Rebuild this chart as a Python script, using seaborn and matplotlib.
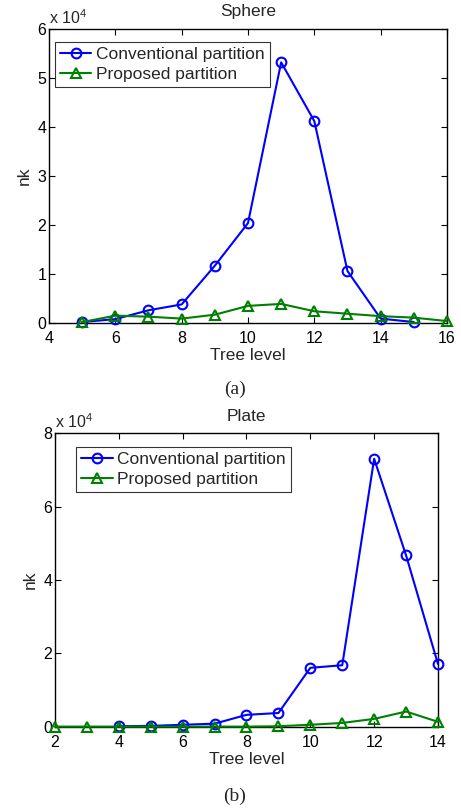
import numpy as np
import pandas as pd
import matplotlib
matplotlib.use("Agg")
import matplotlib.pyplot as plt
import seaborn as sns
from matplotlib.ticker import FuncFormatter

# ---- data ----
sphere_levels_conv = [5, 6, 7, 8, 9, 10, 11, 12, 13, 14, 15]
sphere_conv = [200, 800, 2600, 3800, 11700, 20400, 53200, 41200, 10600, 900, 200]
sphere_levels_prop = [5, 6, 7, 8, 9, 10, 11, 12, 13, 14, 15, 16]
sphere_prop = [200, 1500, 1300, 900, 1700, 3500, 3900, 2400, 1900, 1400, 1100, 400]

plate_levels_conv = [4, 5, 6, 7, 8, 9, 10, 11, 12, 13, 14]
plate_conv = [200, 300, 600, 900, 3300, 3800, 16100, 16800, 73000, 46700, 17100]
plate_levels_prop = [2, 3, 4, 5, 6, 7, 8, 9, 10, 11, 12, 13, 14]
plate_prop = [100, 100, 100, 100, 100, 100, 100, 200, 600, 1100, 2200, 4200, 1400]

labels = ["Conventional partition", "Proposed partition"]
titles = ["Sphere", "Plate"]
captions = ["(a)", "(b)"]

sns.set_style("ticks")
plt.rcParams["font.family"] = ["Liberation Sans", "DejaVu Sans"]
plt.rcParams["mathtext.fontset"] = "custom"
plt.rcParams["mathtext.rm"] = "Liberation Sans"
plt.rcParams["xtick.direction"] = "in"
plt.rcParams["ytick.direction"] = "in"
plt.rcParams["xtick.top"] = True
plt.rcParams["ytick.right"] = True

fig = plt.figure(figsize=(4.61, 8.10), dpi=100)
ax1 = fig.add_axes([0.1063, 0.6012, 0.8633, 0.3630])
ax2 = fig.add_axes([0.1193, 0.1025, 0.8308, 0.3629])

blue = (0, 0, 1)
green = (0, 0.5, 0)

TICK_FS = 11.5
LAB_FS = 12.5

def draw(ax, xc, yc, xp, yp, xlim, ylim, xticks, yticks, title, legend_anchor):
    sns.lineplot(x=xc, y=yc, ax=ax, color=blue, marker="o", markersize=7,
                 markerfacecolor="none", markeredgecolor=blue, markeredgewidth=1.5,
                 linewidth=1.5, label=labels[0], clip_on=False, zorder=3)
    sns.lineplot(x=xp, y=yp, ax=ax, color=green, marker="^", markersize=7.5,
                 markerfacecolor="none", markeredgecolor=green, markeredgewidth=1.5,
                 linewidth=1.5, label=labels[1], clip_on=False, zorder=4)
    ax.set_xlim(*xlim)
    ax.set_ylim(*ylim)
    ax.set_xticks(xticks)
    ax.set_yticks(yticks)
    ax.yaxis.set_major_formatter(FuncFormatter(lambda v, p: f"{v/1e4:g}"))
    for s in ax.spines.values():
        s.set_visible(True)
        s.set_linewidth(1.0)
        s.set_color("black")
        s.set_zorder(2)
    ax.tick_params(length=4, width=0.8, labelsize=TICK_FS, colors="black")
    ax.tick_params(axis="x", pad=6)
    ax.tick_params(axis="y", pad=2)
    ax.set_xlabel("Tree level", fontsize=LAB_FS, labelpad=1)
    ax.set_ylabel("nk", fontsize=LAB_FS, labelpad=4)
    ax.set_title(title, fontsize=LAB_FS, pad=9)
    ax.text(0.0, 1.006, "x 10$^{4}$", transform=ax.transAxes, fontsize=TICK_FS,
            ha="left", va="bottom")
    leg = ax.legend(loc="upper left", bbox_to_anchor=legend_anchor, fontsize=LAB_FS,
                    frameon=True, fancybox=False, edgecolor="black",
                    handlelength=1.8, handletextpad=0.25, borderpad=0.3,
                    labelspacing=0.25, borderaxespad=0)
    leg.get_frame().set_linewidth(0.8)

draw(ax1, sphere_levels_conv, sphere_conv, sphere_levels_prop, sphere_prop,
     (4, 16), (0, 60000), [4, 6, 8, 10, 12, 14, 16], [0, 10000, 20000, 30000, 40000, 50000, 60000],
     titles[0], (0.015, 0.956))
draw(ax2, plate_levels_conv, plate_conv, plate_levels_prop, plate_prop,
     (2, 14), (0, 80000), [2, 4, 6, 8, 10, 12, 14], [0, 20000, 40000, 60000, 80000],
     titles[1], (0.055, 0.952))

fig.text(235 / 461, 1 - 389 / 810, captions[0], ha="center", va="center",
         fontsize=14, family="Liberation Serif")
fig.text(235 / 461, 1 - 796 / 810, captions[1], ha="center", va="center",
         fontsize=14, family="Liberation Serif")

fig.savefig("out.png", dpi=100)
